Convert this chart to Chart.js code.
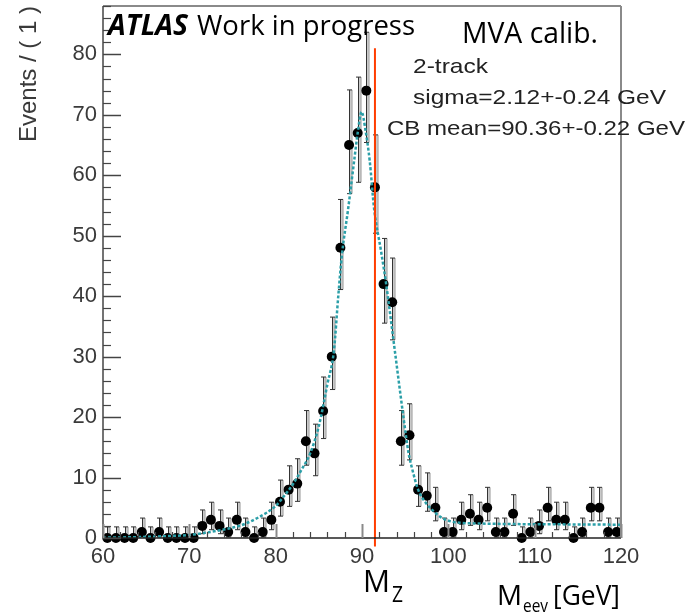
<!DOCTYPE html>
<html>
<head>
<meta charset="utf-8">
<script src="https://cdn.jsdelivr.net/npm/chart.js@4.4.0/dist/chart.umd.min.js"></script>
<style>
  html, body { margin: 0; padding: 0; background: #fff; }
</style>
</head>
<body>
<canvas id="grafico" width="694" height="612"></canvas>
<script>
// Histogram bins (1 GeV wide), centre of each bin
const binCenters = [
  60.5, 61.5, 62.5, 63.5, 64.5, 65.5, 66.5, 67.5, 68.5, 69.5,
  70.5, 71.5, 72.5, 73.5, 74.5, 75.5, 76.5, 77.5, 78.5, 79.5,
  80.5, 81.5, 82.5, 83.5, 84.5, 85.5, 86.5, 87.5, 88.5, 89.5,
  90.5, 91.5, 92.5, 93.5, 94.5, 95.5, 96.5, 97.5, 98.5, 99.5,
  100.5, 101.5, 102.5, 103.5, 104.5, 105.5, 106.5, 107.5, 108.5, 109.5,
  110.5, 111.5, 112.5, 113.5, 114.5, 115.5, 116.5, 117.5, 118.5, 119.5
];
const counts = [
  0, 0, 0, 0, 1, 0, 1, 0, 0, 0,
  0, 2, 3, 2, 1, 3, 1, 0, 1, 3,
  6, 8, 9, 16, 14, 21, 30, 48, 65, 67,
  74, 58, 42, 39, 16, 17, 8, 7, 5, 1,
  1, 3, 4, 3, 5, 1, 1, 4, 0, 1,
  2, 5, 3, 3, 0, 1, 5, 5, 1, 1
];
// Poisson error bars (down / up)
const errDown = [
  0, 0, 0, 0, 0.83, 0, 0.83, 0, 0, 0,
  0, 1.29, 1.63, 1.29, 0.83, 1.63, 0.83, 0, 0.83, 1.63,
  2.38, 2.77, 2.94, 3.96, 3.70, 4.55, 5.44, 6.90, 8.04, 8.16,
  8.58, 7.59, 6.46, 6.22, 3.96, 4.08, 2.77, 2.58, 2.16, 0.83,
  0.83, 1.63, 1.91, 1.63, 2.16, 0.83, 0.83, 1.91, 0, 0.83,
  1.29, 2.16, 1.63, 1.63, 0, 0.83, 2.16, 2.16, 0.83, 0.83
];
const errUp = [
  1.84, 1.84, 1.84, 1.84, 2.30, 1.84, 2.30, 1.84, 1.84, 1.84,
  1.84, 2.64, 2.92, 2.64, 2.30, 2.92, 2.30, 1.84, 2.30, 2.92,
  3.58, 3.94, 4.11, 5.08, 4.83, 5.63, 6.54, 8.00, 9.12, 9.24,
  9.66, 8.68, 7.55, 7.31, 5.08, 5.20, 3.94, 3.77, 3.38, 2.30,
  2.30, 2.92, 3.16, 2.92, 3.38, 2.30, 2.30, 3.16, 1.84, 2.30,
  2.64, 3.38, 2.92, 2.92, 1.84, 2.30, 3.38, 3.38, 2.30, 2.30
];

// Fitted curve
const fitX = [60, 64, 68, 70, 72, 74, 76, 78, 80, 81, 82, 83, 84, 85, 86, 86.75, 87.25, 87.65, 88.4, 89.1, 89.5, 89.95,
  90.4, 90.9, 91.4, 92.2, 92.8, 93.8, 94.8, 95.4, 95.8, 96.5, 97.4, 98.3, 99.3, 100.4, 101.5, 103.5, 108, 114, 120];
const fitY = [0.05, 0.15, 0.35, 0.5, 0.9, 1.4, 2.1, 3.4, 5.3, 7.0, 8.9, 11.3, 14.0, 18.5, 25.5, 31, 40, 46.5, 54.5, 62.5, 67, 70.5,
  67.5, 62.3, 54.5, 47.5, 42, 31, 20, 14, 11.5, 8, 5.8, 4.4, 3.3, 2.7, 2.5, 2.4, 2.3, 2.25, 2.2];

// Z mass marker
const mzValue = 91.5;
const mzRange = [-1.4, 81];

// Tick labels
const xTicks = [60, 70, 80, 90, 100, 110, 120];
const yTicks = [0, 10, 20, 30, 40, 50, 60, 70, 80];

const pontos = binCenters.map((x, i) => ({ x: x, y: counts[i] }));
const curva = fitX.map((x, i) => ({ x: x, y: fitY[i] }));

function linha(ctx, x1, y1, x2, y2) {
  ctx.beginPath();
  ctx.moveTo(x1, y1);
  ctx.lineTo(x2, y2);
  ctx.stroke();
}

function fitText(ctx, text, x, y, font, width, color) {
  ctx.font = font;
  const w = ctx.measureText(text).width;
  ctx.save();
  ctx.translate(x, y);
  ctx.scale(width / w, 1);
  ctx.fillStyle = color;
  ctx.textAlign = 'left';
  ctx.textBaseline = 'alphabetic';
  ctx.fillText(text, 0, 0);
  ctx.restore();
}

// Error bars behind the markers
const errorBars = {
  id: 'errorBars',
  beforeDatasetsDraw(chart) {
    const { ctx, chartArea } = chart;
    const x = chart.scales.x, y = chart.scales.y;
    ctx.save();
    binCenters.forEach((b, i) => {
      const px = Math.round(x.getPixelForValue(b)) + 0.5;
      const yTop = y.getPixelForValue(counts[i] + errUp[i]);
      const yBot = y.getPixelForValue(counts[i] - errDown[i]);
      const top = Math.max(yTop, chartArea.top);
      const bot = Math.min(yBot, chartArea.bottom);
      ctx.strokeStyle = '#b8b8b8';
      ctx.lineWidth = 2.5;
      linha(ctx, px + 2, top, px + 2, bot);
      ctx.strokeStyle = '#333';
      ctx.lineWidth = 1;
      linha(ctx, px, top, px, bot);
      if (yTop >= chartArea.top) linha(ctx, px - 2.5, yTop, px + 2.5, yTop);
      if (errDown[i] > 0) linha(ctx, px - 2.5, yBot, px + 2.5, yBot);
    });
    ctx.restore();
  }
};

// Frame and inward ticks, ROOT style
const frame = {
  id: 'frame',
  afterDatasetsDraw(chart) {
    const { ctx, chartArea: a } = chart;
    const x = chart.scales.x, y = chart.scales.y;
    ctx.save();
    ctx.strokeStyle = '#8a8a8a';
    ctx.lineWidth = 2;
    linha(ctx, a.left, a.top, a.right, a.top);
    linha(ctx, a.right, a.top, a.right, a.bottom);
    ctx.strokeStyle = '#444';
    ctx.lineWidth = 1.5;
    linha(ctx, a.left, a.top, a.left, a.bottom);
    ctx.strokeStyle = '#222';
    linha(ctx, a.left, a.bottom, a.right, a.bottom);

    for (let v = 0; v <= 88; v += 2) {
      const py = Math.round(y.getPixelForValue(v)) + 0.5;
      const major = v % 10 === 0;
      ctx.lineWidth = major ? 1.5 : 1.2;
      ctx.strokeStyle = '#444';
      linha(ctx, a.left, py, a.left + (major ? 18 : 8), py);
    }
    for (let v = 60; v <= 120; v += 2) {
      const px = Math.round(x.getPixelForValue(v)) + 0.5;
      const major = v % 10 === 0;
      ctx.lineWidth = major ? 2 : 1.2;
      ctx.strokeStyle = major ? '#8a8a8a' : '#444';
      linha(ctx, px, a.bottom, px, a.bottom - (major ? 14 : 6));
    }
    ctx.restore();
  },
  afterDraw(chart) {
    const ctx = chart.ctx;
    ctx.save();
    fitText(ctx, 'ATLAS', 108, 35, 'italic bold 28px "Open Sans"', 80, '#000');
    fitText(ctx, 'Work in progress', 197, 35, '28px "Open Sans"', 218, '#000');
    fitText(ctx, 'MVA calib.', 462, 43, '29px "Open Sans"', 136, '#000');
    fitText(ctx, '2-track', 413, 73, '21px "Liberation Sans"', 75, '#222');
    fitText(ctx, 'sigma=2.12+-0.24 GeV', 413, 104, '21px "Liberation Sans"', 253, '#222');
    fitText(ctx, 'CB mean=90.36+-0.22 GeV', 387, 135, '21px "Liberation Sans"', 298, '#222');
    fitText(ctx, 'M', 363, 592, '31px "Open Sans"', 27, '#000');
    fitText(ctx, 'Z', 392, 602, '21px "Open Sans"', 11, '#000');
    fitText(ctx, 'M', 497, 605, '28px "Open Sans"', 25, '#000');
    fitText(ctx, 'eev', 523, 612, '18px "Open Sans"', 25, '#000');
    fitText(ctx, '[GeV]', 553, 605, '28px "Open Sans"', 67, '#000');
    ctx.restore();
  }
};

const ctx = document.getElementById('grafico').getContext('2d');
new Chart(ctx, {
  type: 'scatter',
  data: {
    datasets: [
      {
        type: 'line',
        data: [{ x: mzValue, y: mzRange[0] }, { x: mzValue, y: mzRange[1] }],
        borderColor: '#ff3d00',
        borderWidth: 2,
        pointRadius: 0,
        clip: false,
        order: 0
      },
      {
        type: 'line',
        data: curva,
        borderColor: '#2b9fa8',
        borderWidth: 2.5,
        borderDash: [3, 2],
        pointRadius: 0,
        cubicInterpolationMode: 'monotone',
        order: 1
      },
      {
        data: pontos,
        pointRadius: 5,
        backgroundColor: '#000',
        borderColor: '#000',
        borderWidth: 0,
        clip: false,
        order: 2
      }
    ]
  },
  options: {
    responsive: false,
    animation: false,
    devicePixelRatio: 1,
    layout: { padding: { left: 0, top: 6, right: 73, bottom: 0 } },
    plugins: { legend: { display: false }, tooltip: { enabled: false } },
    scales: {
      x: {
        type: 'linear',
        min: 60,
        max: 120,
        grid: { display: false, drawTicks: false },
        border: { display: false },
        afterBuildTicks: s => { s.ticks = xTicks.map(v => ({ value: v })); },
        afterFit: s => { s.height = 74; s.paddingLeft = 0; s.paddingRight = 0; },
        ticks: {
          padding: 6,
          color: '#3a3a3a',
          font: { family: '"Liberation Sans", Arial', size: 22 },
          maxRotation: 0
        }
      },
      y: {
        min: 0,
        max: 88,
        grid: { display: false, drawTicks: false },
        border: { display: false },
        afterBuildTicks: s => { s.ticks = yTicks.map(v => ({ value: v })); },
        afterFit: s => { s.width = 103; s.paddingTop = 0; s.paddingBottom = 0; },
        ticks: {
          padding: 6,
          color: '#3a3a3a',
          font: { family: '"Liberation Sans", Arial', size: 22 }
        },
        title: {
          display: true,
          text: 'Events / ( 1 )',
          align: 'end',
          color: '#3a3a3a',
          font: { family: '"Liberation Sans", Arial', size: 24 },
          padding: { top: 15, bottom: 0 }
        }
      }
    }
  },
  plugins: [errorBars, frame]
});
</script>
</body>
</html>
